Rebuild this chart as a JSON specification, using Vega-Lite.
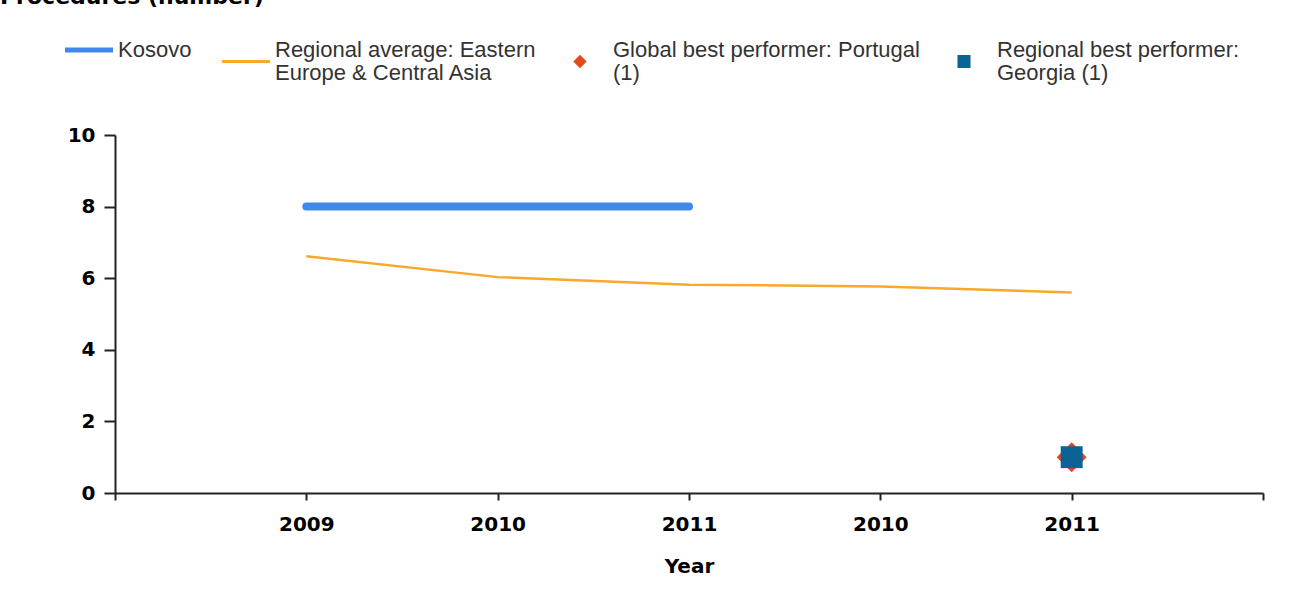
{
  "$schema": "https://vega.github.io/schema/vega-lite/v6.json",
  "autosize": {"type": "none"},
  "width": 1148,
  "height": 358,
  "padding": {"left": 115, "top": 135, "right": 41, "bottom": 110},
  "background": "white",
  "title": {"text": "Procedures (number)", "anchor": "start", "frame": "group", "dx": -115, "dy": -13, "font": "DejaVu Sans", "fontSize": 22, "fontWeight": "bold", "color": "black", "baseline": "alphabetic", "offset": 0},
  "datasets": {
    "lines": [
      {"series": "Kosovo", "idx": 1, "year": "2009", "value": 8},
      {"series": "Kosovo", "idx": 2, "year": "2010", "value": 8},
      {"series": "Kosovo", "idx": 3, "year": "2011", "value": 8},
      {"series": "Regional average: Eastern Europe & Central Asia", "idx": 1, "year": "2009", "value": 6.61},
      {"series": "Regional average: Eastern Europe & Central Asia", "idx": 2, "year": "2010", "value": 6.03},
      {"series": "Regional average: Eastern Europe & Central Asia", "idx": 3, "year": "2011", "value": 5.82},
      {"series": "Regional average: Eastern Europe & Central Asia", "idx": 4, "year": "2010", "value": 5.77},
      {"series": "Regional average: Eastern Europe & Central Asia", "idx": 5, "year": "2011", "value": 5.6}
    ],
    "points": [
      {"series": "Global best performer: Portugal (1)", "idx": 5, "year": "2011", "value": 1},
      {"series": "Regional best performer: Georgia (1)", "idx": 5, "year": "2011", "value": 1}
    ]
  },
  "encoding": {
    "x": {"field": "idx", "type": "quantitative", "scale": {"domain": [0, 6], "nice": false, "zero": false},
      "axis": {"values": [0, 1, 2, 3, 4, 5, 6], "labelExpr": "['', '2009', '2010', '2011', '2010', '2011', ''][datum.value]", "title": "Year", "grid": false,
        "domainColor": "#222", "domainWidth": 2, "tickColor": "#222", "tickWidth": 2, "tickSize": 7,
        "labelFont": "DejaVu Sans", "labelFontSize": 20, "labelFontWeight": "bold", "labelColor": "black", "labelPadding": 14,
        "titleFont": "DejaVu Sans", "titleFontSize": 20, "titleFontWeight": "bold", "titleColor": "black", "titlePadding": 22}},
    "y": {"field": "value", "type": "quantitative", "scale": {"domain": [0, 10], "nice": false},
      "axis": {"values": [0, 2, 4, 6, 8, 10], "title": null, "grid": false,
        "domainColor": "#222", "domainWidth": 2, "tickColor": "#222", "tickWidth": 2, "tickSize": 11,
        "labelFont": "DejaVu Sans", "labelFontSize": 20, "labelFontWeight": "bold", "labelColor": "black", "labelPadding": 9}}
  },
  "layer": [
    {
      "data": {"name": "lines"},
      "transform": [{"filter": "datum.series == 'Regional average: Eastern Europe & Central Asia'"}],
      "mark": {"type": "line", "strokeWidth": 2.5},
      "encoding": {
        "color": {"field": "series", "type": "nominal",
          "scale": {"domain": ["Kosovo", "Regional average: Eastern Europe & Central Asia", "Global best performer: Portugal (1)", "Regional best performer: Georgia (1)"],
                    "range": ["#4088ec", "#f8a82a", "#e2491b", "#0b6395"]},
          "legend": {"orient": "none", "legendX": -50, "legendY": -96, "direction": "horizontal", "columns": 4, "title": null,
            "symbolType": "stroke", "symbolSize": 100, "symbolStrokeWidth": 5, "columnPadding": 24, "labelLimit": 400,
            "labelFont": "Liberation Sans", "labelFontSize": 22, "labelColor": "#333", "labelBaseline": "middle",
            "labelExpr": "datum.label == 'Regional average: Eastern Europe & Central Asia' ? ['Regional average: Eastern', 'Europe & Central Asia'] : datum.label == 'Global best performer: Portugal (1)' ? ['Global best performer: Portugal', '(1)'] : datum.label == 'Regional best performer: Georgia (1)' ? ['Regional best performer:', 'Georgia (1)'] : [datum.label, '']",
            "encode": {
              "symbols": {"update": {
                "shape": {"signal": "datum.value == 'Global best performer: Portugal (1)' ? 'diamond' : datum.value == 'Regional best performer: Georgia (1)' ? 'square' : 'stroke'"},
                "size": {"signal": "datum.value == 'Global best performer: Portugal (1)' ? 180 : datum.value == 'Regional best performer: Georgia (1)' ? 170 : 2304"},
                "strokeWidth": {"signal": "datum.value == 'Kosovo' ? 5 : datum.value == 'Regional average: Eastern Europe & Central Asia' ? 3 : 0"},
                "fill": {"signal": "datum.value == 'Kosovo' || datum.value == 'Regional average: Eastern Europe & Central Asia' ? 'transparent' : scale('color', datum.value)"},
                "stroke": {"signal": "scale('color', datum.value)"},
                "x": {"signal": "datum.value == 'Kosovo' || datum.value == 'Regional average: Eastern Europe & Central Asia' ? 24 : 20"},
                "y": {"signal": "datum.value == 'Kosovo' ? 11 : 22.5"},
                "opacity": {"value": 1}
              }},
              "labels": {"update": {
                "x": {"value": 53},
                "y": {"value": 11},
                "lineHeight": {"value": 23}
              }}
            }}
        }
      }
    },
    {
      "data": {"name": "lines"},
      "transform": [{"filter": "datum.series == 'Kosovo'"}],
      "mark": {"type": "line", "strokeWidth": 8, "strokeCap": "round"},
      "encoding": {"color": {"field": "series", "type": "nominal"}}
    },
    {
      "data": {"name": "points"},
      "transform": [{"filter": "datum.series == 'Global best performer: Portugal (1)'"}],
      "mark": {"type": "point", "shape": "diamond", "filled": true, "size": 900, "opacity": 1},
      "encoding": {"color": {"field": "series", "type": "nominal"}}
    },
    {
      "data": {"name": "points"},
      "transform": [{"filter": "datum.series == 'Regional best performer: Georgia (1)'"}],
      "mark": {"type": "point", "shape": "square", "filled": true, "size": 480, "opacity": 1},
      "encoding": {"color": {"field": "series", "type": "nominal"}}
    }
  ],
  "config": {"view": {"stroke": null}}
}
